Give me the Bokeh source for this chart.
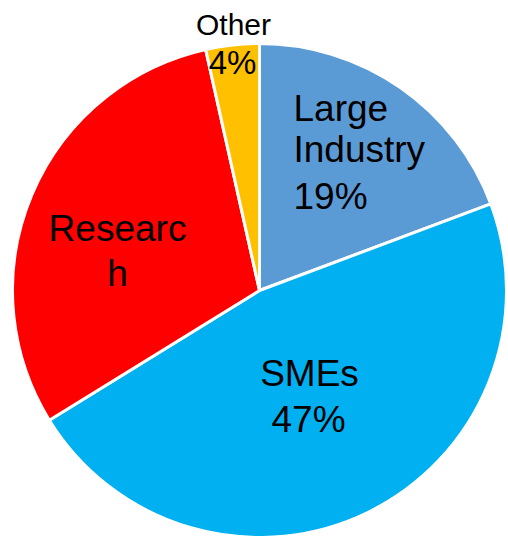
import math
from bokeh.plotting import figure
from bokeh.models import Range1d, ColumnDataSource
from bokeh.core.properties import value
from bokeh.embed import file_html
from bokeh.resources import INLINE

# ---- data ----
categories = ["Large Industry", "SMEs", "Research", "Other"]
shares = [19.3, 46.9, 30.3, 3.5]
colors = ["#5B9BD5", "#00B0F0", "#FF0000", "#FFC000"]

# labels (one glyph per line)
label_lines = ["Large", "Industry", "19%", "SMEs", "47%", "Researc", "h", "Other", "4%"]
label_x = [293, 293, 293, 309, 308, 117, 117, 233, 232]
label_y = [108, 149, 196, 373, 419, 228, 273, 24, 62]
label_align = ["left", "left", "left", "center", "center", "center", "center", "center", "center"]
label_size = ["37px"] * 7 + ["30px", "33px"]

W, H = 508, 536
cx, cy, r = 259, H - 290, 247

total = sum(shares)
starts, ends = [], []
cum = 0.0
for s in shares:
    starts.append(math.pi / 2 - 2 * math.pi * cum / total)
    cum += s
    ends.append(math.pi / 2 - 2 * math.pi * cum / total)

src = ColumnDataSource(dict(cat=categories, share=shares, color=colors,
                            start=starts, end=ends,
                            x=[cx] * len(shares), y=[cy] * len(shares)))

p = figure(width=W, height=H, output_backend="svg", toolbar_location=None,
           x_range=Range1d(0, W), y_range=Range1d(0, H),
           min_border=0, min_border_left=0, min_border_right=0,
           min_border_top=0, min_border_bottom=0)
p.axis.visible = False
p.grid.visible = False
p.outline_line_color = None
p.background_fill_color = "white"
p.border_fill_color = "white"

p.wedge(x="x", y="y", radius=r, start_angle="start", end_angle="end",
        direction="clock", fill_color="color", line_color="white",
        line_width=3, source=src)

lsrc = ColumnDataSource(dict(x=label_x, y=[H - v for v in label_y], t=label_lines,
                             align=label_align, size=label_size))
p.text(x="x", y="y", text="t", text_align="align", text_font_size="size",
       text_baseline="alphabetic", text_color="black",
       text_font=value("Liberation Sans"), source=lsrc)

open("out.html", "w").write(file_html(p, INLINE))
